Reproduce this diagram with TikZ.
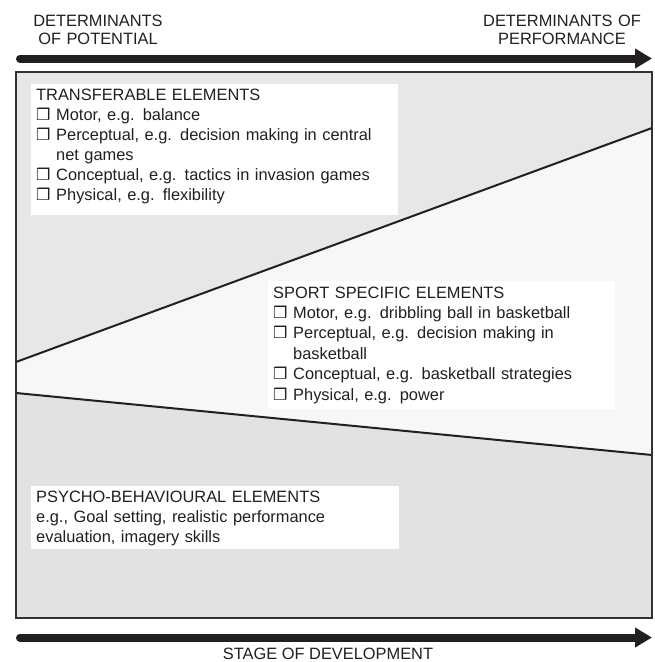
\documentclass[tikz,border=0pt]{standalone}
\usepackage{fontspec}
\setmainfont{Liberation Sans}
\newfontfamily\dvs{DejaVu Sans}
\usetikzlibrary{arrows.meta}
\definecolor{upgray}{HTML}{E6E7E8}
\definecolor{midgray}{HTML}{F7F7F7}
\definecolor{lowgray}{HTML}{E1E2E4}
\definecolor{ink}{HTML}{231F20}
\definecolor{framecol}{HTML}{333333}
\newcommand{\chk}{\makebox[20pt][l]{{\dvs\fontsize{16}{16}\selectfont ❒}}}
\newcommand{\itm}[1]{\par\hangindent=20pt\hangafter=1\noindent\chk#1}
\tikzset{
  lbl/.style={inner sep=0pt, text=ink, font=\fontsize{16.4}{20.1}\selectfont},
  listtext/.style={lbl, anchor=base west, text width=385pt, align=left},
  whitebox/.style={fill=white, draw=none, inner sep=0pt, anchor=north west},
  divline/.style={draw=ink, line width=2pt},
  frame/.style={draw=framecol, line width=1.5pt},
  bigarrow/.style={draw=ink, line width=8pt, line cap=round, -{Triangle[length=17pt,width=19pt]}},
}
\begin{document}
\begin{tikzpicture}[x=1pt,y=-1pt]
\useasboundingbox (0,0) rectangle (654,662);
% frame corners and divider ends
\coordinate (tl) at (16,72);
\coordinate (tr) at (652,72);
\coordinate (br) at (652,618);
\coordinate (bl) at (16,618);
\coordinate (ul) at (16,362);
\coordinate (ur) at (652,128);
\coordinate (ll) at (16,393);
\coordinate (lr) at (652,455);
\fill[upgray] (tl) -- (tr) -- (ur) -- (ul) -- cycle;
\fill[midgray] (ul) -- (ur) -- (lr) -- (ll) -- cycle;
\fill[lowgray] (ll) -- (lr) -- (br) -- (bl) -- cycle;
\draw[divline] (ul) -- (ur);
\draw[divline] (ll) -- (lr);
\draw[frame] (tl) rectangle (br);

% top labels and arrow
\node[lbl, anchor=base, text width=200pt, align=center, font=\fontsize{16.4}{17.6}\selectfont] (potl) at (98,26.7) {DETERMINANTS\\OF POTENTIAL};
\node[lbl, anchor=base, text width=200pt, align=center, font=\fontsize{16.4}{17.6}\selectfont] (perf) at (562,26.7) {DETERMINANTS OF\\PERFORMANCE};
\coordinate (a1s) at (20,58.5);
\coordinate (a1e) at (652,58.5);
\draw[bigarrow] (a1s) -- (a1e);

% transferable
\node[whitebox, minimum width=367pt, minimum height=131pt] (tbox) at (31,84) {};
\node[listtext] (ttext) at (36,100) {TRANSFERABLE ELEMENTS
\itm{Motor, e.g. balance}
\itm{Perceptual, e.g. decision making in central\newline net games}
\itm{Conceptual, e.g. tactics in invasion games}
\itm{Physical, e.g. flexibility}\par};

% sport specific
\node[whitebox, minimum width=347pt, minimum height=128pt] (sbox) at (268,281) {};
\node[listtext, font=\fontsize{16.4}{20.4}\selectfont] (stext) at (273,298) {SPORT SPECIFIC ELEMENTS
\itm{Motor, e.g. dribbling ball in basketball}
\itm{Perceptual, e.g. decision making in\newline basketball}
\itm{Conceptual, e.g. basketball strategies}
\itm{Physical, e.g. power}\par};

% psycho-behavioural
\node[whitebox, minimum width=368pt, minimum height=63pt] (pbox) at (31,486) {};
\node[listtext] (ptext) at (36,502.5) {PSYCHO-BEHAVIOURAL ELEMENTS\\e.g., Goal setting, realistic performance\\evaluation, imagery skills};

% bottom arrow
\coordinate (a2s) at (20,637.5);
\coordinate (a2e) at (652,637.5);
\draw[bigarrow] (a2s) -- (a2e);
\node[lbl, anchor=base] (stage) at (328,659.5) {STAGE OF DEVELOPMENT};
\end{tikzpicture}
\end{document}
